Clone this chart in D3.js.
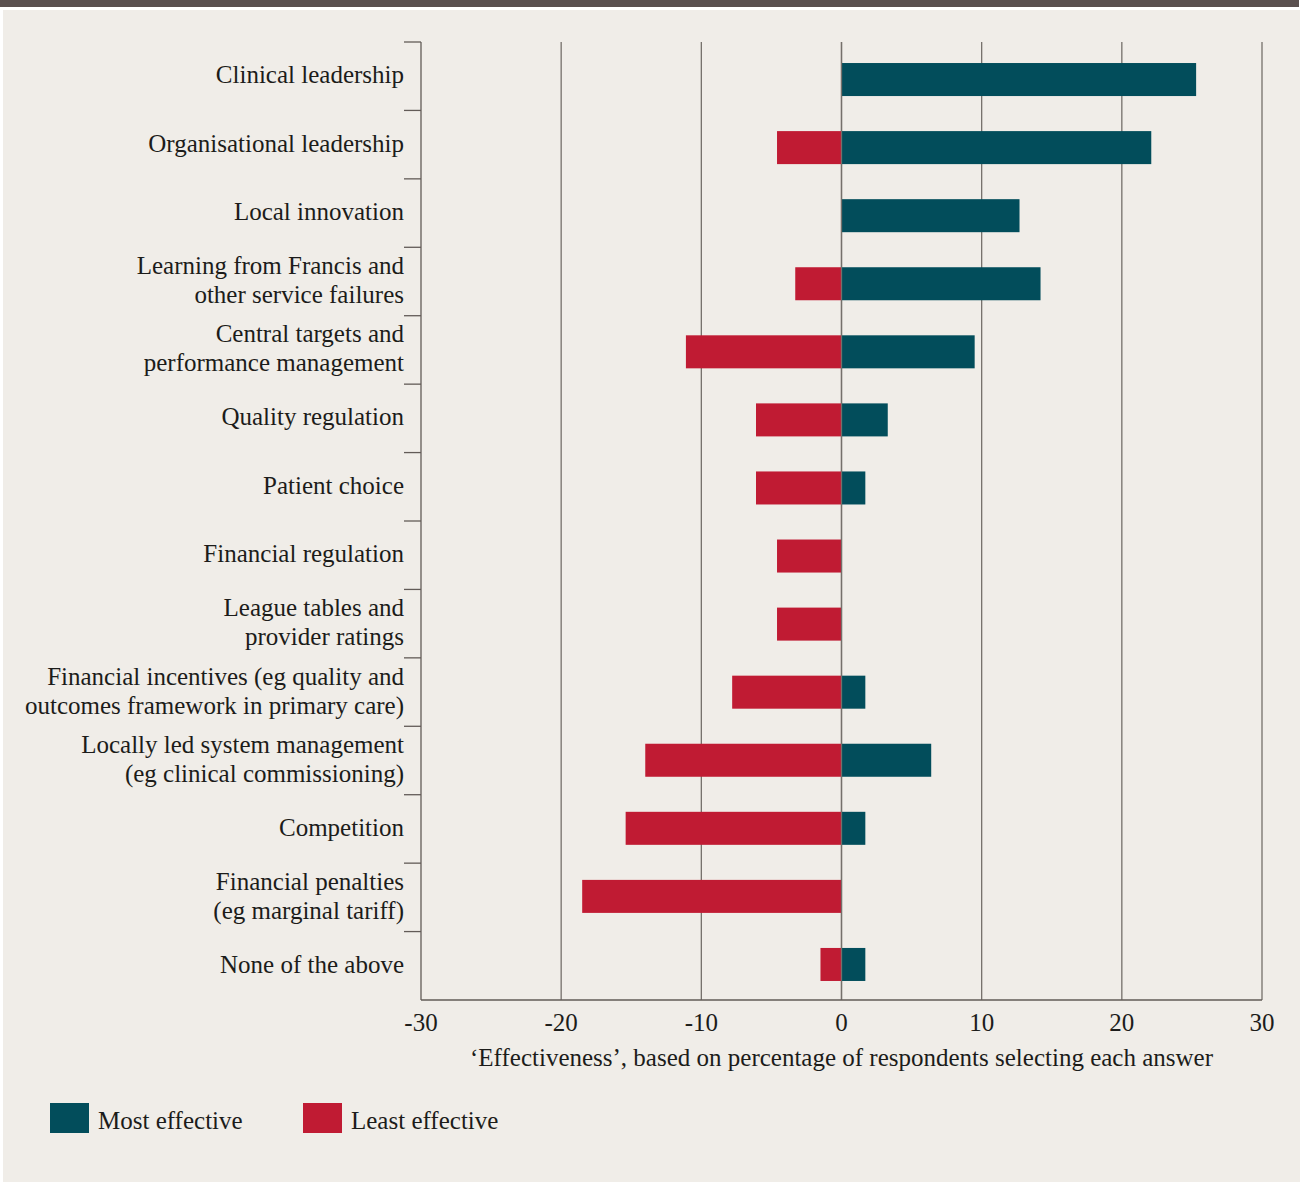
<!DOCTYPE html>
<html>
<head>
<meta charset="utf-8">
<script src="https://cdn.jsdelivr.net/npm/d3@7"></script>
<style>
  body { margin: 0; background: #fff; }
  svg { display: block; }
  text { font-family: "Liberation Serif", "DejaVu Serif", serif; fill: #1c1c1a; }
</style>
</head>
<body>
<script>
const width = 1303;
const height = 1182;

// categories (each line of a label is its own entry)
const categories = [
    ["Clinical leadership"],
    ["Organisational leadership"],
    ["Local innovation"],
    ["Learning from Francis and", "other service failures"],
    ["Central targets and", "performance management"],
    ["Quality regulation"],
    ["Patient choice"],
    ["Financial regulation"],
    ["League tables and", "provider ratings"],
    ["Financial incentives (eg quality and", "outcomes framework in primary care)"],
    ["Locally led system management", "(eg clinical commissioning)"],
    ["Competition"],
    ["Financial penalties", "(eg marginal tariff)"],
    ["None of the above"]
];
const mostEffective  = [25.3, 22.1, 12.7, 14.2, 9.5, 3.3, 1.7, 0, 0, 1.7, 6.4, 1.7, 0, 1.7];
const leastEffective = [0, -4.6, 0, -3.3, -11.1, -6.1, -6.1, -4.6, -4.6, -7.8, -14.0, -15.4, -18.5, -1.5];
const xTicks = [-30, -20, -10, 0, 10, 20, 30];
const seriesNames = ["Most effective", "Least effective"];
const seriesColors = ["#024d5b", "#c01b33"];

const fontSize = "25px";

const svg = d3.select("body").append("svg").attr("width", width).attr("height", height);

// top strip + panel
svg.append("rect").attr("x", 0).attr("y", 0).attr("width", 1299).attr("height", 7).attr("fill", "#5a504f");
svg.append("rect").attr("x", 3).attr("y", 10).attr("width", 1297).attr("height", height - 10).attr("fill", "#f0ede8");

const margin = {left: 421, right: 1262, top: 42, bottom: 1000};

const x = d3.scaleLinear().domain([-30, 30]).range([margin.left, margin.right]);
// bars sit on a slightly tighter band than the axis ticks
const y = d3.scaleBand()
    .domain(d3.range(categories.length))
    .range([45.5, 998.5])
    .paddingInner(0.515)
    .paddingOuter(0.2575);
const band = (margin.bottom - margin.top) / categories.length;

const lineColor = "#75706b";

// gridlines
svg.append("g").selectAll("line")
    .data(xTicks.filter(d => d !== -30))
    .enter().append("line")
    .attr("x1", d => x(d)).attr("x2", d => x(d))
    .attr("y1", margin.top).attr("y2", margin.bottom)
    .attr("stroke", lineColor).attr("stroke-width", 1.3);

// bars
const g = svg.append("g");
g.selectAll(".pos")
    .data(mostEffective)
    .enter().append("rect")
    .attr("class", "pos")
    .attr("x", x(0))
    .attr("y", (d, i) => y(i))
    .attr("width", d => x(d) - x(0))
    .attr("height", y.bandwidth())
    .attr("fill", seriesColors[0]);
g.selectAll(".neg")
    .data(leastEffective)
    .enter().append("rect")
    .attr("class", "neg")
    .attr("x", d => x(d))
    .attr("y", (d, i) => y(i))
    .attr("width", d => x(0) - x(d))
    .attr("height", y.bandwidth())
    .attr("fill", seriesColors[1]);

// zero line on top of bars
svg.append("line")
    .attr("x1", x(0)).attr("x2", x(0))
    .attr("y1", margin.top).attr("y2", margin.bottom)
    .attr("stroke", lineColor).attr("stroke-width", 1.3);

// left axis + ticks at band boundaries
svg.append("line")
    .attr("x1", margin.left).attr("x2", margin.left)
    .attr("y1", margin.top).attr("y2", margin.bottom)
    .attr("stroke", "#625b57").attr("stroke-width", 1.3);
svg.append("g").selectAll("line")
    .data(d3.range(categories.length))
    .enter().append("line")
    .attr("x1", margin.left - 17).attr("x2", margin.left)
    .attr("y1", i => margin.top + i * band).attr("y2", i => margin.top + i * band)
    .attr("stroke", "#625b57").attr("stroke-width", 1.3);

// bottom axis line
svg.append("line")
    .attr("x1", margin.left).attr("x2", margin.right)
    .attr("y1", margin.bottom).attr("y2", margin.bottom)
    .attr("stroke", "#625b57").attr("stroke-width", 1.3);

// category labels
const labels = svg.append("g").selectAll("text")
    .data(categories)
    .enter().append("text")
    .attr("text-anchor", "end")
    .attr("font-size", fontSize)
    .attr("x", 404)
    .attr("y", (d, i) => margin.top + (i + 0.5) * band);
labels.each(function(d) {
    const t = d3.select(this);
    const n = d.length;
    d.forEach((line, k) => {
        t.append("tspan")
            .attr("x", 404)
            .attr("dy", k === 0 ? ((7 - (n - 1) * 14.5)) + "px" : "29px")
            .text(line);
    });
});

// x tick labels
svg.append("g").selectAll("text")
    .data(xTicks)
    .enter().append("text")
    .attr("x", d => x(d))
    .attr("y", 1031)
    .attr("text-anchor", "middle")
    .attr("font-size", fontSize)
    .text(d => d);

svg.append("text")
    .attr("x", x(0))
    .attr("y", 1066)
    .attr("text-anchor", "middle")
    .attr("font-size", fontSize)
    .text("\u2018Effectiveness\u2019, based on percentage of respondents selecting each answer");

// legend
const legendX = [50, 303];
const legend = svg.append("g").selectAll("g")
    .data(seriesNames)
    .enter().append("g")
    .attr("transform", (d, i) => `translate(${legendX[i]},1103)`);
legend.append("rect")
    .attr("width", 39).attr("height", 30)
    .attr("fill", (d, i) => seriesColors[i]);
legend.append("text")
    .attr("x", 48).attr("y", 26)
    .attr("font-size", fontSize)
    .text(d => d);
</script>
</body>
</html>
